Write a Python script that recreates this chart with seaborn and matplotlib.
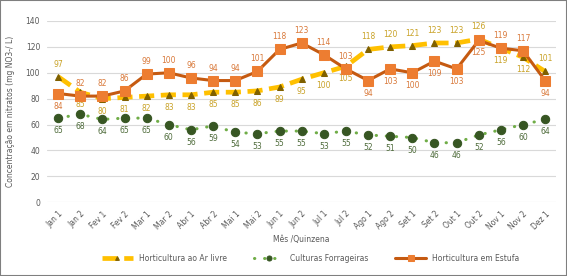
import matplotlib
matplotlib.use('Agg')

import pandas as pd
import matplotlib.pyplot as plt
import seaborn as sns
import numpy as np
from matplotlib.patches import Rectangle

quinzenas = ['Jan 1', 'Jan 2', 'Fev 1', 'Fev 2', 'Mar 1', 'Mar 2', 'Abr 1', 'Abr 2',
             'Mai 1', 'Mai 2', 'Jun 1', 'Jun 2', 'Jul 1', 'Jul 2', 'Ago 1', 'Ago 2',
             'Set 1', 'Set 2', 'Out 1', 'Out 2', 'Nov 1', 'Nov 2', 'Dez 1']
ar_livre = [97, 85, 80, 81, 82, 83, 83, 85, 85, 86, 89, 95, 100, 105, 118, 120,
            121, 123, 123, 126, 119, 112, 101]
forrageiras = [65, 68, 64, 65, 65, 60, 56, 59, 54, 53, 55, 55, 53, 55, 52, 51,
               50, 46, 46, 52, 56, 60, 64]
estufa = [84, 82, 82, 86, 99, 100, 96, 94, 94, 101, 118, 123, 114, 103, 94, 103,
          100, 109, 103, 125, 119, 117, 94]

# label side per point: 1 above, -1 below
lado_ar = [1, -1, -1, -1, -1, -1, -1, -1, -1, -1, -1, -1, -1, -1, 1, 1, 1, 1, 1, 1, -1, -1, 1]
lado_est = [-1, 1, 1, 1, 1, 1, 1, 1, 1, 1, 1, 1, 1, 1, -1, -1, -1, -1, -1, -1, 1, 1, -1]
lado_for = [-1] * 23

df = pd.DataFrame({'x': np.arange(len(quinzenas)), 'ar': ar_livre,
                   'forr': forrageiras, 'est': estufa})

sns.set_style('white')
plt.rcParams['font.family'] = ['DejaVu Sans']

fig = plt.figure(figsize=(5.67, 2.76), dpi=100)
ax = fig.add_axes([0.083, 0.267, 0.898, 0.657])

grey = '#595959'

sns.lineplot(data=df, x='x', y='ar', ax=ax, color='#FFC000', lw=3.4,
             linestyle=(0, (3.2, 1.4)), marker='^', markersize=4.5,
             markerfacecolor='#7F6000', markeredgecolor='#7F6000',
             label='Horticultura ao Ar livre', zorder=3)
sns.lineplot(data=df, x='x', y='forr', ax=ax, color='#70AD47', lw=2.2,
             linestyle=(0, (0.1, 3.2)), marker='o', markersize=6,
             markerfacecolor='#375623', markeredgecolor='#375623',
             label='Culturas Forrageiras', zorder=3)
ax.lines[-1].set_dash_capstyle('round')
sns.lineplot(data=df, x='x', y='est', ax=ax, color='#C55A11', lw=2.2,
             marker='s', markersize=6.5, markerfacecolor='#ED7D31',
             markeredgecolor='#ED7D31', label='Horticultura em Estufa', zorder=4)

def rotular(vals, lados, cor):
    for i, (v, s) in enumerate(zip(vals, lados)):
        ax.annotate(str(v), (i, v), xytext=(0, 9 * s), textcoords='offset points',
                    ha='center', va='center', fontsize=5.5, color=cor)

rotular(ar_livre, lado_ar, '#C9A227')
rotular(estufa, lado_est, '#D9793A')
rotular(forrageiras, lado_for, '#4E6B3A')

ax.set_xlim(-0.5, len(quinzenas) - 0.5)
ax.set_ylim(0, 140)
ax.set_yticks(range(0, 141, 20))
ax.set_xticks(df['x'])
ax.set_xticklabels(quinzenas, rotation=45, ha='right', rotation_mode='anchor')
ax.tick_params(axis='both', labelsize=5.5, colors=grey, length=0, pad=5)
ax.grid(axis='y', color='#D9D9D9', lw=0.8)
ax.set_axisbelow(True)
for sp in ax.spines.values():
    sp.set_visible(False)
ax.set_xlabel('Mês /Quinzena', fontsize=5.5, color=grey, labelpad=3)
ax.set_ylabel('Concentração em nitratos (mg NO3-/ L)', fontsize=5.5, color=grey, labelpad=8)

handles, labels = ax.get_legend_handles_labels()
ax.get_legend().remove()
fig.legend(handles, labels, loc='center', bbox_to_anchor=(0.548, 0.065), ncol=3,
           frameon=False, fontsize=5.5, handlelength=4, columnspacing=3.5,
           markerscale=0.6, handletextpad=0.8, labelcolor=grey)

fig.patches.append(Rectangle((0, 0), 1, 1, transform=fig.transFigure, fill=False,
                             edgecolor='#7F7F7F', lw=1.5))

fig.savefig('out.png', dpi=100)
